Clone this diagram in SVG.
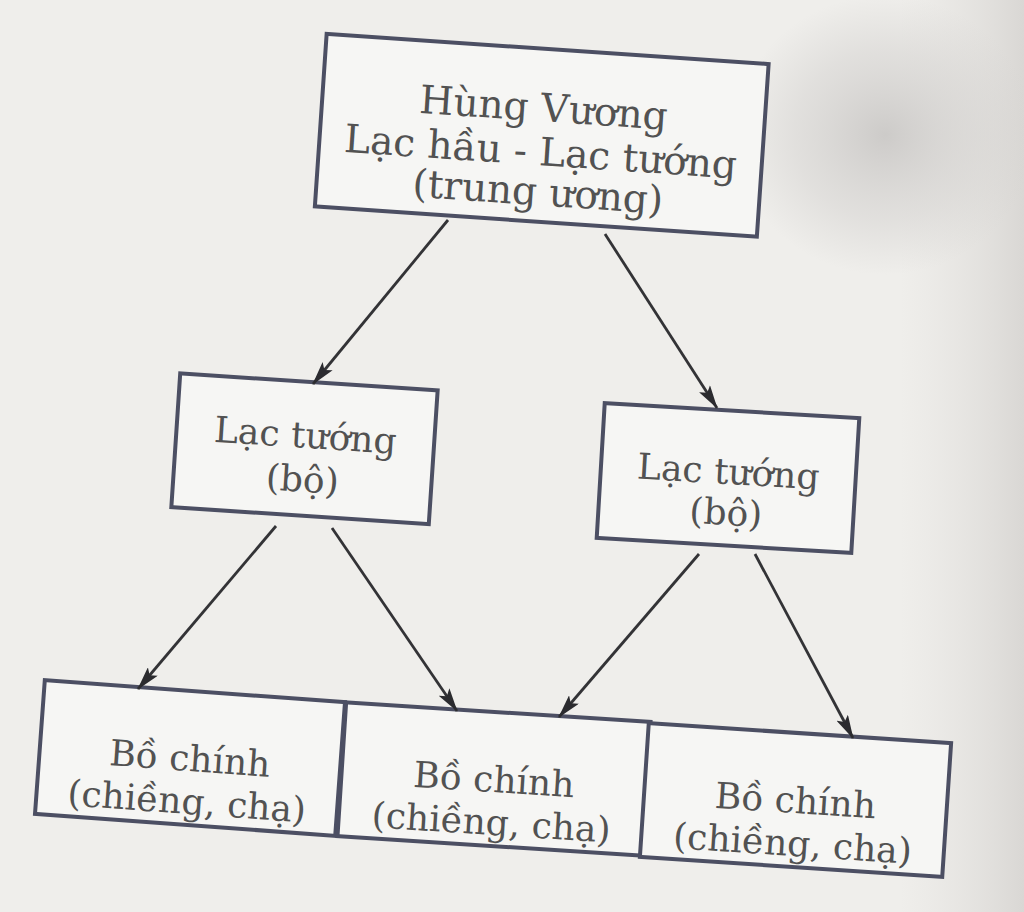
<svg xmlns="http://www.w3.org/2000/svg" width="1024" height="912" viewBox="0 0 1024 912">
  <defs>
    <radialGradient id="blob" cx="0.5" cy="0.5" r="0.5">
      <stop offset="0" stop-color="#c9c7c5" stop-opacity="0.9"/>
      <stop offset="0.6" stop-color="#d3d1cf" stop-opacity="0.5"/>
      <stop offset="1" stop-color="#d3d1cf" stop-opacity="0"/>
    </radialGradient>
    <linearGradient id="edge" x1="0" y1="0" x2="1" y2="0">
      <stop offset="0" stop-color="#e4e2df" stop-opacity="0"/>
      <stop offset="1" stop-color="#d9d7d4" stop-opacity="1"/>
    </linearGradient>
    <marker id="arr" viewBox="0 0 24 13" refX="23" refY="6.5" markerWidth="24" markerHeight="13" markerUnits="userSpaceOnUse" orient="auto">
      <path d="M0,0 L24,6.5 L0,13 L5,6.5 Z" fill="#2b2b2f"/>
    </marker>
    <style>
      .box { fill: #f6f6f4; stroke: #4c4f63; stroke-width: 4; }
      .t { font-family: "DejaVu Serif", "Liberation Serif", serif; fill: #525252; text-anchor: middle; }
      .t39 { font-size: 39px; }
      .t36 { font-size: 36px; }
      .conn line { stroke: #333336; stroke-width: 2.8; marker-end: url(#arr); }
    </style>
  </defs>

  <rect x="0" y="0" width="1024" height="912" fill="#efeeeb"/>
  <rect x="900" y="0" width="124" height="912" fill="url(#edge)"/>
  <ellipse cx="885" cy="135" rx="150" ry="140" fill="url(#blob)"/>

  <g id="hung-vuong" transform="translate(541.75,135.25) rotate(3.9)">
    <rect class="box" x="-221.5" y="-86.5" width="443" height="173"/>
    <text class="t t39" x="0" y="-14">Hùng Vương</text>
    <text class="t t39" x="0" y="30">Lạc hầu - Lạc tướng</text>
    <text class="t t39" x="0" y="70">(trung ương)</text>
  </g>

  <g id="lac-tuong-left" transform="translate(304.5,448.75) rotate(3.8)">
    <rect class="box" x="-129" y="-67" width="258" height="134"/>
    <text class="t t36" x="0" y="-1">Lạc tướng</text>
    <text class="t t36" x="0" y="43">(bộ)</text>
  </g>

  <g id="lac-tuong-right" transform="translate(728,478) rotate(3.4)">
    <rect class="box" x="-127.5" y="-67.5" width="255" height="135"/>
    <text class="t t36" x="0" y="6">Lạc tướng</text>
    <text class="t t36" x="0" y="47">(bộ)</text>
  </g>

  <g id="bo-chinh-1" transform="translate(190,758) rotate(4.2)">
    <rect class="box" x="-150.5" y="-67" width="301" height="134"/>
    <text class="t t36" x="0" y="13">Bồ chính</text>
    <text class="t t36" x="0" y="56">(chiềng, chạ)</text>
  </g>

  <g id="bo-chinh-2" transform="translate(494,779) rotate(3.7)">
    <rect class="box" x="-152.5" y="-67" width="305" height="134"/>
    <text class="t t36" x="0" y="13">Bồ chính</text>
    <text class="t t36" x="0" y="56">(chiềng, chạ)</text>
  </g>

  <g id="bo-chinh-3" transform="translate(795.5,800) rotate(3.8)">
    <rect class="box" x="-151.5" y="-67" width="303" height="134"/>
    <text class="t t36" x="0" y="13">Bồ chính</text>
    <text class="t t36" x="0" y="56">(chiềng, chạ)</text>
  </g>

  <g id="connectors" class="conn">
    <line x1="448" y1="220" x2="313" y2="384"/>
    <line x1="605" y1="234" x2="717" y2="408"/>
    <line x1="276" y1="526" x2="138" y2="689"/>
    <line x1="332" y1="528" x2="457" y2="711"/>
    <line x1="699" y1="554" x2="559" y2="717"/>
    <line x1="755" y1="554" x2="853" y2="738"/>
  </g>
</svg>
